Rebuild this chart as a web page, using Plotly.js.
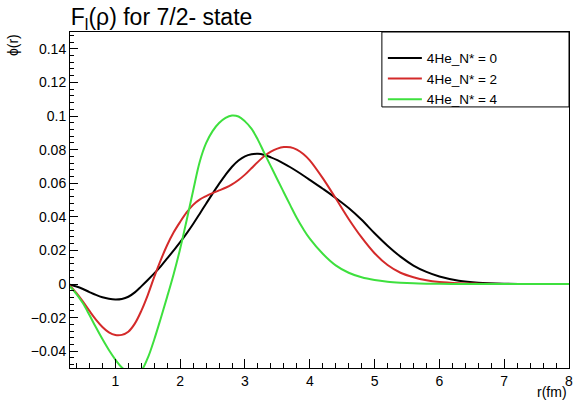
<!DOCTYPE html>
<html>
<head>
<meta charset="utf-8">
<script src="https://cdn.plot.ly/plotly-3.0.1.min.js"></script>
<style>
html,body{margin:0;padding:0;background:#fff;}
#chart{width:585px;height:401px;}
</style>
</head>
<body>
<div id="chart"></div>
<script>
// radius r (fm)
const r = [0.3,0.4,0.5,0.6,0.7,0.8,0.9,1.0,1.1,1.2,1.3,1.4,1.5,1.6,1.7,1.8,1.9,2.0,2.1,2.2,2.3,2.4,2.5,2.6,2.7,2.8,2.9,3.0,3.1,3.2,3.3,3.4,3.5,3.6,3.7,3.8,3.9,4.0,4.2,4.4,4.6,4.8,5.0,5.2,5.4,5.6,5.8,6.0,6.3,6.6,7.0,7.5,8.0];

// phi(r) for N* = 0
const phiN0 = [-0.0004,-0.0015,-0.0030,-0.0048,-0.0065,-0.0079,-0.0088,-0.0092,-0.0089,-0.0076,-0.0050,-0.0014,0.0024,0.0063,0.0105,0.0152,0.0200,0.0249,0.0301,0.0357,0.0417,0.0478,0.0538,0.0596,0.0650,0.0698,0.0735,0.0760,0.0772,0.0775,0.0768,0.0754,0.0737,0.0717,0.0695,0.0671,0.0646,0.0620,0.0567,0.0512,0.0452,0.0382,0.0302,0.0228,0.0163,0.0110,0.0072,0.0045,0.0020,0.0008,0.0002,0.0000,0.0000];

// phi(r) for N* = 2
const phiN2 = [-0.0010,-0.0055,-0.0105,-0.0160,-0.0212,-0.0256,-0.0288,-0.0304,-0.0303,-0.0284,-0.0236,-0.0160,-0.0066,0.0042,0.0142,0.0232,0.0308,0.0370,0.0426,0.0471,0.0502,0.0523,0.0541,0.0557,0.0573,0.0593,0.0619,0.0651,0.0689,0.0727,0.0762,0.0788,0.0806,0.0815,0.0814,0.0800,0.0774,0.0736,0.0630,0.0510,0.0387,0.0277,0.0183,0.0113,0.0067,0.0040,0.0022,0.0012,0.0005,0.0002,0.0000,0.0000,0.0000];

// phi(r) for N* = 4
const phiN4 = [-0.0015,-0.0060,-0.0115,-0.0185,-0.0258,-0.0328,-0.0393,-0.0450,-0.0497,-0.0528,-0.0536,-0.0515,-0.0440,-0.0330,-0.0205,-0.0075,0.0060,0.0210,0.0380,0.0555,0.0725,0.0838,0.0910,0.0958,0.0989,0.1003,0.0997,0.0968,0.0925,0.0858,0.0778,0.0700,0.0622,0.0545,0.0468,0.0393,0.0327,0.0270,0.0180,0.0111,0.0067,0.0040,0.0024,0.0014,0.0008,0.0004,0.0002,0.0001,0.0000,0.0000,0.0000,0.0000,0.0000];

const seriesNames = ["4He_N* = 0","4He_N* = 2","4He_N* = 4"];
const seriesColors = ["#000000","#d42a2a","#3ee03e"];
const seriesValues = [phiN0, phiN2, phiN4];

const FONT = "Liberation Sans, Arial, Helvetica, sans-serif";

const traces = seriesValues.map((v,i)=>({
  x: r, y: v, type: "scatter", mode: "lines", name: seriesNames[i],
  line: {color: seriesColors[i], width: 2, shape: "spline", smoothing: 1}
}));

const layout = {
  width: 585, height: 401,
  margin: {l: 70, r: 16, t: 32, b: 33, pad: 0},
  paper_bgcolor: "#fff", plot_bgcolor: "#fff",
  font: {family: FONT, color: "#000", size: 14},
  title: {text: "F<sub>l</sub>(ρ) for 7/2- state", x: 0.121, xanchor: "left", xref: "container",
          y: 0.958, yanchor: "middle", yref: "container",
          font: {family: FONT, size: 23, color: "#000"}},
  showlegend: true,
  legend: {x: 0.627, xanchor: "left", y: 0.968, yanchor: "top", itemwidth: 34,
           bgcolor: "rgba(0,0,0,0)", borderwidth: 0,
           font: {family: FONT, size: 13.5, color: "#000"}},
  xaxis: {range: [0.3, 8], showgrid: false, zeroline: false,
          showline: true, linecolor: "#000", linewidth: 1, mirror: true,
          ticks: "inside", ticklen: 9, tickwidth: 1, tickcolor: "#000",
          tick0: 0, dtick: 1, tickfont: {family: FONT, size: 14, color: "#000"},
          minor: {ticks: "inside", ticklen: 5, dtick: 0.2, tick0: 0, tickcolor: "#000", tickwidth: 1, showgrid: false}},
  yaxis: {range: [-0.05, 0.15], showgrid: false, zeroline: false,
          showline: true, linecolor: "#000", linewidth: 1, mirror: true,
          ticks: "inside", ticklen: 8, tickwidth: 1, tickcolor: "#000",
          tick0: 0, dtick: 0.02, tickfont: {family: FONT, size: 14, color: "#000"},
          minor: {ticks: "inside", ticklen: 4, dtick: 0.004, tick0: 0, tickcolor: "#000", tickwidth: 1, showgrid: false}},
  shapes: [{type: "rect", xref: "paper", yref: "paper", x0: 0.625, x1: 1, y0: 0.777, y1: 1,
            line: {color: "#000", width: 1}, fillcolor: "rgba(255,255,255,0)", layer: "above"}],
  annotations: [
    {text: "ϕ(r)", xref: "paper", yref: "paper", x: -0.114, y: 1, xanchor: "center", yanchor: "top",
     textangle: -90, showarrow: false, font: {family: FONT, size: 14, color: "#000"}},
    {text: "r(fm)", xref: "paper", yref: "paper", x: 1, y: -0.072, xanchor: "right", yanchor: "middle",
     showarrow: false, font: {family: FONT, size: 14, color: "#000"}}
  ]
};

Plotly.newPlot("chart", traces, layout, {displayModeBar: false, staticPlot: true});
</script>
</body>
</html>
